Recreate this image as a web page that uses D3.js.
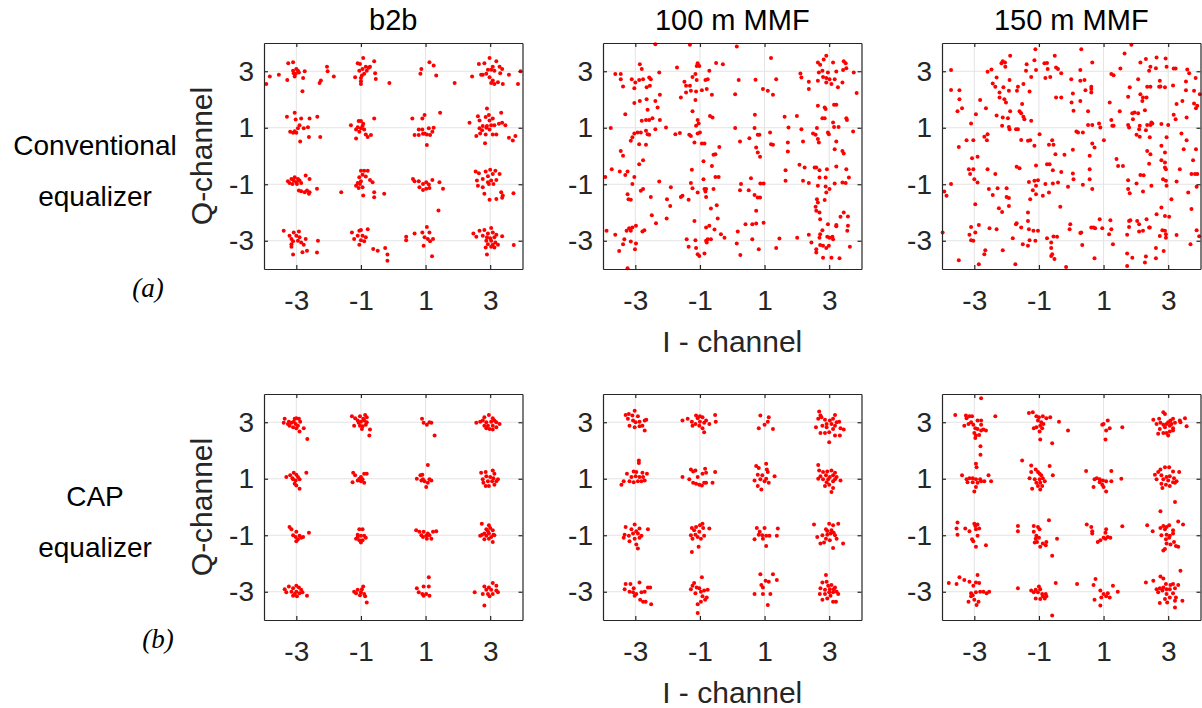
<!DOCTYPE html>
<html>
<head>
<meta charset="utf-8">
<script src="https://cdn.jsdelivr.net/npm/d3@7"></script>
<style>
  body { margin: 0; background: #fff; }
  svg { display: block; }
</style>
</head>
<body>
<div id="chart"></div>
<script>
// constellation points [I, Q]
let convB2b = [
  [-3.93,2.55],[-3.82,2.81],[-3.54,2.88],[-3.25,3.28],[-3.10,3.32],[-3.28,2.69],[-3.05,2.81],[-2.95,3.02],[-3.0,3.08],[-3.08,2.93],[-2.92,2.96],[-2.74,3.0],[-2.79,2.76],[-2.81,2.29],[-2.28,2.58],[-2.24,2.67],[-2.05,3.16],[-2.03,3.0],[-1.84,2.81],[-3.1,3.02],[-3.02,2.91],
  [-1.10,3.28],[-1.03,3.26],[-0.93,3.47],[-0.85,3.16],[-0.76,3.12],[-0.95,3.08],[-1.05,3.02],[-1.18,2.79],[-0.97,2.85],[-1.0,2.55],[-1.0,2.65],[-0.82,3.02],[-0.72,3.16],[-0.59,3.35],[-0.56,2.93],[-0.54,2.73],[-0.12,2.58],[-0.90,2.91],[-1.0,2.76],
  [0.87,3.08],[0.84,2.91],[1.12,3.32],[1.25,3.2],[1.33,2.85],[1.90,2.58],
  [2.44,2.81],[2.65,3.26],[2.82,3.28],[2.98,3.47],[3.19,3.35],[3.08,3.16],[3.29,3.16],[3.37,3.08],[2.93,3.05],[3.03,3.05],[3.13,3.02],[2.88,2.91],[2.77,2.88],[2.98,2.79],[3.08,2.67],[3.13,2.55],[3.03,2.58],[3.24,2.61],[3.39,2.55],[3.58,2.88],[3.86,2.55],[3.94,3.0],[2.72,2.88],[3.31,2.93],
  [-3.29,1.39],[-3.05,1.53],[-3.02,1.29],[-2.85,1.33],[-2.59,1.33],[-2.35,1.39],[-2.90,1.09],[-2.95,0.98],[-2.77,0.98],[-2.64,1.02],[-3.19,0.86],[-3.10,0.82],[-3.0,0.82],[-2.88,0.51],[-2.61,0.67],[-2.26,0.67],[-3.05,0.88],
  [-1.31,1.09],[-1.07,1.24],[-1.0,1.24],[-0.93,1.14],[-1.10,1.02],[-1.0,0.98],[-0.90,0.94],[-1.15,0.94],[-1.05,0.86],[-1.15,0.62],[-0.79,0.67],[-0.69,0.74],[-0.59,1.33],[-0.85,0.76],[-0.95,1.06],
  [0.59,1.33],[0.90,1.33],[0.97,1.45],[1.45,1.53],[0.79,0.94],[0.90,0.94],[1.10,0.98],[1.25,1.0],[0.66,0.74],[0.79,0.74],[0.92,0.79],[1.04,0.76],[1.14,0.74],[1.21,0.86],[1.04,0.39],[0.97,0.80],
  [2.36,1.18],[2.62,1.41],[2.67,1.26],[2.90,1.68],[2.86,1.38],[2.96,1.45],[2.98,1.26],[3.08,1.33],[3.34,1.53],[2.77,1.06],[2.90,1.06],[3.03,1.09],[3.13,1.09],[3.27,1.14],[3.37,1.18],[3.47,1.09],[2.67,0.98],[2.75,0.91],[2.88,1.0],[2.98,0.94],[2.69,0.8],[2.57,0.71],[2.86,0.76],[3.08,0.76],[3.19,0.76],[2.84,0.45],[3.58,0.65],[3.70,0.55],[3.78,0.71],
  [-3.26,-0.89],[-3.15,-0.81],[-3.05,-0.75],[-2.95,-0.81],[-3.08,-0.87],[-3.0,-0.93],[-2.90,-0.87],[-2.85,-0.96],[-3.21,-0.96],[-3.12,-0.99],[-2.98,-0.99],[-2.71,-0.69],[-2.59,-0.81],[-2.36,-1.16],[-2.92,-1.22],[-2.85,-1.25],[-2.67,-1.22],[-2.59,-1.28],[-2.61,-1.34],[-2.74,-1.28],[-1.61,-1.28],
  [-1.0,-0.52],[-0.90,-0.52],[-0.79,-0.52],[-0.95,-0.66],[-0.85,-0.73],[-1.05,-0.75],[-1.03,-0.99],[-1.15,-1.05],[-1.10,-0.96],[-0.95,-1.11],[-1.07,-1.13],[-1.0,-0.89],[-0.72,-0.85],[-0.64,-0.93],[-0.93,-1.40],[-0.59,-1.28],[-0.59,-1.46],[-0.28,-1.34],
  [0.61,-0.81],[0.66,-0.89],[0.79,-0.89],[0.92,-0.99],[1.02,-0.93],[1.10,-1.01],[1.21,-0.85],[1.43,-0.93],[1.12,-1.13],[1.02,-1.16],[0.81,-1.11],[0.92,-1.20],[1.54,-1.16],[1.40,-1.93],
  [2.55,-0.55],[2.65,-0.61],[2.86,-0.55],[3.0,-0.49],[3.16,-0.52],[3.29,-0.64],[3.08,-0.64],[2.93,-0.72],[2.59,-0.87],[2.77,-0.81],[2.93,-0.93],[3.03,-0.87],[3.19,-0.85],[2.62,-1.05],[2.77,-1.11],[2.96,-0.99],[3.10,-0.99],[2.82,-1.34],[2.98,-1.55],[3.19,-1.52],[3.34,-1.28],[3.39,-1.40],[3.37,-1.48],[3.72,-1.32],
  [-3.39,-2.65],[-3.21,-2.82],[-3.08,-2.71],[-2.92,-2.67],[-3.0,-2.82],[-2.90,-2.88],[-2.71,-2.94],[-3.15,-2.94],[-3.10,-3.02],[-2.95,-3.0],[-2.85,-3.06],[-3.15,-3.12],[-3.15,-3.21],[-2.77,-3.14],[-2.67,-3.35],[-2.81,-3.41],[-3.10,-3.49],[-2.36,-3.42],[-2.33,-3.0],
  [-1.28,-2.71],[-1.05,-2.65],[-1.0,-2.62],[-0.79,-2.59],[-1.10,-2.82],[-0.95,-2.82],[-0.85,-2.88],[-1.21,-2.94],[-1.0,-2.98],[-0.90,-3.02],[-1.05,-3.14],[-0.62,-3.29],[-0.48,-3.35],[-0.25,-3.26],[-0.18,-3.49],[-0.18,-3.71],
  [0.40,-2.86],[0.40,-2.98],[0.66,-2.74],[0.90,-2.71],[1.04,-2.51],[1.12,-2.71],[0.97,-2.88],[1.07,-2.94],[1.23,-2.94],[1.14,-3.02],[0.94,-3.18],[1.20,-3.55],
  [2.48,-2.74],[2.57,-2.86],[2.67,-2.65],[2.82,-2.62],[3.03,-2.55],[2.93,-2.74],[3.08,-2.71],[3.19,-2.79],[2.77,-2.82],[2.90,-2.88],[3.0,-2.91],[3.13,-2.88],[2.88,-3.0],[3.03,-3.0],[3.16,-3.06],[2.93,-3.12],[3.08,-3.14],[3.24,-3.14],[3.03,-3.21],[2.86,-3.24],[3.13,-3.24],[3.37,-2.84],[2.90,-3.49],[3.73,-3.15]
];

let conv100 = [
  [-2.38,3.96],[-1.31,3.94],[0.14,3.88],[-3.24,-3.97],[1.20,3.47],[2.91,3.55],[2.83,3.42],[2.65,3.31],[3.12,3.31],[3.45,3.35],[3.51,3.28],[2.72,3.23],[-2.86,3.25],[-2.80,3.08],[-1.07,3.28],[-1.02,3.19],[-1.10,3.19],[-0.50,3.29],[-0.29,3.25],[-1.71,3.13],
  [3.53,3.11],[3.43,3.04],[3.22,2.99],[2.96,2.96],[2.79,3.02],[2.68,2.96],[2.11,2.92],[2.14,2.78],[-0.71,3.02],[-3.62,2.90],[-3.45,2.90],[-3.45,2.72],[-3.38,2.46],[-3.11,2.72],[-3.00,2.60],[-3.03,2.40],[-2.88,2.69],[-2.76,2.72],[-2.57,2.78],[-2.52,2.72],
  [-2.65,2.43],[-2.55,2.49],[-2.26,2.96],[-1.48,2.63],[-1.43,2.49],[-1.31,2.49],[-1.23,2.80],[-1.14,2.90],[-1.10,2.69],[-1.28,2.31],[-1.12,2.28],[-0.94,2.33],[-0.83,2.69],[-0.76,2.72],[-0.79,2.37],[-0.63,2.17],[0.20,2.69],[0.72,2.70],[1.36,2.72],[0.95,2.37],
  [1.10,2.31],[1.26,2.17],[0.09,2.19],[2.37,2.63],[2.37,2.37],[2.65,2.66],[2.81,2.80],[2.91,2.76],[3.01,2.72],[3.07,2.55],[3.17,2.72],[2.91,2.60],[3.27,2.43],[3.41,2.60],[3.76,2.96],[3.85,2.23],[-2.86,1.95],[-2.65,2.01],[-2.38,1.95],[-2.24,2.17],
  [-3.03,1.88],[-1.59,2.07],[-1.14,1.98],[-1.43,2.25],[-2.31,1.72],[-2.62,1.64],[-3.31,1.48],[-2.80,1.25],[-2.67,1.27],[-2.57,1.27],[-2.47,1.34],[-2.24,1.27],[-1.23,1.58],[-1.07,1.27],[-1.04,1.15],[-1.12,1.07],[-0.69,1.42],[-0.61,1.36],[2.65,1.78],[2.86,1.72],
  [2.89,1.66],[3.15,1.81],[3.22,1.81],[1.62,1.39],[2.00,1.42],[2.79,1.34],[2.86,1.34],[3.12,1.19],[3.53,1.34],[3.55,1.27],[0.70,1.46],[-3.76,0.99],[-2.05,1.01],[-2.83,0.83],[-2.93,0.83],[-3.03,0.80],[-3.09,0.66],[-3.14,0.54],[-2.67,0.89],[-2.62,0.77],
  [-2.57,0.75],[-2.38,0.95],[-1.76,0.77],[-1.62,0.81],[-1.33,0.75],[-1.28,0.71],[-1.07,0.80],[-1.00,0.83],[0.09,0.99],[0.53,0.63],[0.69,0.99],[0.79,0.75],[0.84,0.75],[1.17,0.83],[1.74,1.01],[2.14,0.95],[2.50,0.80],[2.58,0.75],[2.62,0.99],[2.99,0.77],
  [2.96,0.83],[3.15,1.03],[3.29,1.03],[3.74,0.87],[1.72,0.48],[2.19,0.51],[2.65,0.60],[2.68,0.48],[3.22,0.51],[0.24,0.51],[-0.94,0.44],[-0.86,0.44],[-1.17,0.48],[-2.88,0.42],[-2.67,0.40],[-3.45,0.18],[-3.38,0.01],[-2.88,-0.29],[-2.76,-0.15],[-3.73,-0.47],
  [-3.48,-0.55],[-3.24,-0.55],[-3.31,-0.67],[-0.40,0.32],[-0.52,0.06],[-0.58,0.04],[-0.89,-0.19],[-0.63,-0.35],[-1.25,-0.49],[0.74,0.30],[0.79,0.12],[0.86,-0.03],[1.20,0.42],[1.26,0.40],[1.72,0.16],[2.08,-0.31],[2.24,-0.41],[2.55,-0.41],[2.60,-0.41],[2.70,-0.50],
  [2.93,-0.47],[3.22,-0.37],[3.53,-0.47],[3.41,0.18],[3.45,0.09],[3.17,0.24],[-3.93,-0.74],[-3.03,-0.74],[-3.09,-0.99],[-2.83,-1.23],[-2.76,-1.17],[-2.26,-0.90],[-1.90,-1.11],[-1.28,-0.96],[-1.23,-1.14],[-1.07,-1.29],[-0.86,-1.17],[-0.81,-1.17],[-0.89,-0.82],[-0.58,-1.17],
  [-0.52,-0.74],[-0.42,-0.74],[0.27,-0.99],[0.24,-1.21],[0.58,-0.79],[0.51,-1.21],[0.87,-0.97],[0.97,-0.97],[0.69,-1.38],[0.79,-1.47],[0.86,-1.47],[1.65,-0.50],[1.65,-0.88],[2.19,-0.88],[2.37,-0.96],[2.65,-1.05],[2.89,-1.08],[2.91,-1.29],[3.01,-1.17],[3.17,-0.97],
  [3.41,-0.94],[3.51,-0.96],[3.61,-0.76],[2.89,-0.76],[2.70,-0.76],[-3.24,-1.35],[-3.21,-1.53],[-3.14,-1.55],[-2.52,-1.45],[-2.02,-1.53],[-1.92,-1.77],[-1.54,-1.41],[-1.59,-1.45],[-1.35,-1.55],[-0.83,-1.26],[-0.81,-1.45],[-0.48,-1.74],[-0.66,-1.86],[0.74,-1.94],[0.41,-2.42],
  [0.62,-2.42],[0.74,-2.39],[0.97,-2.36],[2.62,-1.53],[2.58,-1.80],[2.65,-1.65],[2.60,-1.94],[2.86,-1.56],[2.70,-2.00],[2.72,-2.24],[2.96,-2.42],[3.22,-2.44],[3.45,-2.00],[3.35,-2.15],[3.58,-2.14],[-2.49,-2.10],[-2.03,-2.21],[-2.36,-2.38],[-1.17,-2.30],[-0.45,-2.21],
  [-0.71,-2.47],[-0.81,-2.53],[-3.89,-2.65],[-3.62,-2.79],[-3.27,-2.65],[-3.19,-2.56],[-3.09,-2.53],[-3.14,-2.65],[-2.98,-2.47],[-2.78,-2.67],[-2.72,-2.63],[-3.34,-2.95],[-3.14,-3.03],[-3.38,-3.12],[-3.50,-3.36],[-2.98,-3.10],[-3.01,-3.30],[-1.41,-2.95],[-1.14,-2.98],[-0.81,-3.00],
  [-0.76,-2.95],[-0.66,-2.95],[-0.55,-2.60],[-0.35,-2.77],[-0.24,-2.89],[-1.35,-3.21],[-1.12,-3.26],[-1.07,-3.48],[-1.02,-3.54],[-0.86,-3.45],[-0.79,-3.06],[0.17,-2.67],[0.14,-3.10],[0.25,-3.50],[0.62,-2.95],[0.82,-3.30],[1.36,-3.26],[1.46,-2.92],[2.01,-2.89],[2.37,-2.79],
  [2.45,-3.06],[2.60,-3.30],[2.70,-2.89],[2.72,-2.77],[2.79,-2.63],[2.94,-2.86],[3.01,-2.89],[3.10,-2.86],[3.12,-2.95],[2.81,-3.18],[2.91,-3.26],[2.99,-3.18],[2.72,-3.15],[2.60,-3.42],[2.81,-3.60],[3.07,-3.60],[3.32,-3.62],[3.22,-2.49],[3.58,-2.47],[3.56,-2.65],
  [3.64,-3.21]
];

let conv150 = [
  [1.86,3.94],[-1.11,3.78],[0.31,3.78],[1.65,3.63],[-1.89,3.55],[2.64,3.49],[2.92,3.45],[2.31,3.43],[2.14,3.31],[0.65,3.31],[-0.51,3.55],[-1.38,3.25],[-1.14,3.39],[-0.83,3.28],[-0.75,3.29],[-2.12,3.35],[-2.05,3.31],[-2.16,3.28],[-2.04,3.16],[-3.72,3.04],
  [-2.59,2.98],[-2.47,3.06],[-1.40,3.02],[-1.09,3.04],[-0.73,3.08],[-0.47,3.13],[-0.41,3.08],[-0.31,2.93],[0.28,3.04],[1.24,2.90],[1.31,2.86],[1.52,3.10],[2.41,3.02],[2.45,3.16],[2.62,3.11],[2.95,3.16],[3.17,3.10],[3.23,3.10],[3.59,3.06],[3.65,2.93],
  [3.85,2.76],[-0.80,2.76],[-0.65,2.80],[-1.24,2.80],[-2.31,2.78],[0.00,2.72],[0.28,2.66],[0.41,2.69],[0.62,2.45],[2.07,2.72],[2.74,2.66],[2.76,2.46],[3.15,2.50],[3.55,2.64],[-2.43,2.57],[-2.35,2.45],[-2.10,2.43],[-1.91,2.69],[-1.65,2.45],[-1.48,2.55],
  [-1.68,2.31],[-2.22,2.25],[-1.93,2.31],[-1.29,2.28],[-3.72,2.34],[-3.46,2.33],[-3.46,2.01],[-3.52,1.58],[-3.38,1.69],[-2.82,1.98],[-2.64,1.69],[-2.31,1.43],[-2.22,2.07],[-2.07,2.01],[-2.02,1.89],[-1.89,1.58],[-2.12,1.36],[-1.96,1.34],[-2.14,1.07],[-1.93,1.03],
  [-1.91,0.95],[-1.71,0.95],[-1.65,0.95],[-1.60,1.58],[-1.55,1.51],[-1.48,1.39],[-1.45,1.30],[-1.24,1.25],[-1.52,1.84],[-0.47,2.07],[-0.31,2.07],[0.05,2.21],[0.01,1.89],[0.07,1.60],[0.28,1.95],[0.52,1.58],[0.62,2.25],[0.62,2.37],[0.44,2.33],[1.19,1.89],
  [1.24,1.27],[1.27,1.07],[1.50,1.58],[1.76,2.10],[1.81,2.43],[1.89,1.51],[1.96,1.54],[1.91,1.30],[2.07,1.51],[2.14,2.19],[2.22,2.07],[2.33,2.07],[2.20,1.95],[2.28,1.62],[2.35,2.45],[2.45,2.45],[2.72,2.45],[2.90,2.43],[3.17,1.46],[3.23,1.30],
  [3.26,1.84],[3.44,1.95],[3.55,2.33],[3.57,1.36],[3.80,2.31],[3.80,1.86],[3.86,1.69],[3.90,1.78],[3.98,2.19],[3.00,1.10],[2.79,1.13],[2.45,1.10],[2.51,1.15],[2.35,1.10],[2.12,1.07],[1.76,1.10],[1.79,1.01],[2.10,0.95],[2.31,0.91],[2.02,0.75],
  [2.12,0.68],[2.43,0.66],[2.48,1.19],[2.95,0.66],[-3.10,1.15],[-2.95,1.48],[-3.24,0.56],[-3.03,0.56],[-3.48,0.32],[-2.69,0.68],[-2.59,0.77],[-2.61,0.56],[-1.55,0.57],[-1.34,0.54],[-1.27,0.56],[-0.98,0.77],[-1.14,0.36],[-0.69,0.40],[-0.59,0.56],[-0.55,0.40],
  [-0.49,0.06],[-0.21,0.04],[0.05,0.22],[0.16,0.87],[0.21,0.83],[0.36,0.83],[0.52,1.10],[0.65,1.10],[0.65,0.44],[0.57,0.01],[0.72,0.30],[0.86,1.15],[0.90,1.01],[1.01,0.56],[1.31,1.07],[2.35,0.18],[2.45,0.06],[2.79,0.36],[2.90,0.12],[3.41,0.80],
  [3.57,0.56],[3.48,0.24],[3.86,0.24],[3.77,-0.15],[-3.07,-0.08],[-2.90,-0.03],[-3.17,-0.47],[-3.03,-0.47],[-3.13,-0.64],[-2.59,-0.47],[-2.35,-0.64],[-1.69,-0.38],[-1.60,-0.43],[-1.09,-0.34],[-0.75,-0.29],[-0.67,-0.29],[-0.57,-0.50],[-0.31,-0.57],[0.05,-0.62],[0.57,-0.47],
  [1.40,-0.11],[1.45,-0.35],[1.60,-0.35],[2.41,-0.27],[2.79,-0.15],[2.90,-0.23],[2.90,-0.41],[3.36,-0.47],[3.83,-0.64],[3.90,-0.64],[-3.72,-0.99],[-3.93,-1.26],[-3.86,-1.41],[-3.00,-0.82],[-2.90,-0.94],[-2.55,-1.17],[-2.28,-1.14],[-2.43,-1.38],[-2.00,-1.14],[-2.00,-1.45],
  [-1.31,-0.92],[-1.14,-0.88],[-1.03,-0.86],[-1.09,-1.05],[-1.19,-1.21],[-1.27,-1.53],[-1.09,-1.35],[-0.80,-0.99],[-0.57,-0.97],[-0.41,-0.94],[-0.69,-1.29],[-0.88,-1.41],[-0.10,-1.09],[0.07,-0.82],[0.36,-1.02],[0.57,-0.82],[0.65,-1.17],[1.76,-0.86],[1.76,-1.17],[1.81,-1.32],
  [2.02,-0.97],[2.14,-0.67],[2.24,-0.68],[2.22,-1.26],[2.48,-1.05],[2.84,-0.82],[2.93,-0.88],[2.93,-0.47],[3.26,-0.90],[2.95,-1.05],[3.62,-1.29],[3.88,-1.09],[3.72,-0.64],[-2.97,-1.71],[-2.24,-1.85],[-2.14,-1.98],[-1.93,-1.77],[-1.93,-1.49],[-1.69,-2.38],[-1.34,-2.00],
  [-1.34,-2.30],[-0.34,-1.80],[-0.03,-2.42],[0.31,-2.71],[0.88,-2.24],[1.21,-2.27],[1.79,-2.30],[2.04,-2.30],[2.10,-2.42],[2.33,-2.24],[2.41,-2.53],[2.79,-1.82],[2.90,-2.12],[3.03,-2.15],[3.10,-1.53],[3.72,-1.88],[2.64,-2.06],[-3.98,-2.71],[-3.10,-2.51],[-3.15,-2.79],
  [-3.10,-2.98],[-3.03,-3.00],[-2.86,-2.44],[-2.97,-2.71],[-2.53,-2.56],[-2.31,-2.59],[-1.81,-2.91],[-1.71,-2.42],[-1.55,-2.53],[-1.50,-3.12],[-1.34,-3.18],[-1.29,-2.98],[-1.31,-2.59],[-1.17,-2.65],[-1.03,-2.65],[-1.11,-3.00],[-0.75,-2.91],[-0.62,-3.06],[-0.55,-2.85],[-0.44,-2.86],
  [-0.05,-2.59],[0.28,-2.73],[0.34,-3.15],[0.62,-2.53],[0.69,-2.53],[0.74,-2.56],[0.96,-2.56],[1.17,-2.77],[1.24,-2.59],[1.29,-3.12],[1.73,-2.79],[1.79,-2.51],[1.83,-2.27],[2.10,-2.67],[2.22,-2.65],[2.43,-2.53],[2.82,-2.63],[2.90,-2.65],[2.93,-2.77],[2.93,-2.89],
  [2.74,-2.83],[3.26,-2.80],[3.88,-2.63],[3.69,-3.12],[3.96,-2.84],[-2.66,-3.34],[-2.69,-3.48],[-3.48,-3.69],[-2.86,-3.83],[-2.12,-3.34],[-1.73,-3.83],[-0.62,-3.26],[-0.59,-3.48],[-0.62,-3.54],[-0.52,-3.65],[-0.16,-3.93],[0.72,-3.62],[1.73,-3.45],[1.73,-3.89],[1.89,-3.60],
  [2.31,-3.56],[2.62,-3.62],[2.86,-3.36],[2.62,-3.26],[2.28,-3.77]
];

let capB2b = [
  [-3.36,3.12],[-3.39,2.98],[-3.26,2.94],[-3.21,2.88],[-3.15,2.98],[-3.05,3.12],[-3.0,3.14],[-2.92,3.12],[-2.88,3.02],[-3.02,2.94],[-2.95,2.88],[-3.10,2.82],[-3.0,2.79],[-2.90,2.67],[-2.77,2.79],[-2.66,2.41],[-3.23,3.02],[-3.08,3.02],
  [-1.28,3.21],[-1.18,3.14],[-1.03,3.21],[-0.87,3.26],[-0.82,3.18],[-1.10,3.06],[-1.0,3.02],[-0.90,3.06],[-0.82,3.0],[-1.21,2.88],[-1.03,2.88],[-0.95,2.86],[-0.85,2.91],[-0.97,2.76],[-0.72,2.74],[-0.74,2.53],[-0.93,3.12],[-1.07,2.98],
  [0.89,3.12],[0.94,2.98],[1.04,2.91],[1.12,3.0],[1.18,2.98],[1.28,2.53],
  [2.57,2.98],[2.69,3.02],[2.82,3.18],[2.96,3.26],[3.08,3.14],[3.13,3.06],[2.88,3.0],[3.03,3.02],[3.19,3.0],[3.29,2.94],[2.93,2.88],[3.08,2.88],[3.19,2.82],[2.82,2.88],[2.98,2.76],[2.88,2.79],[3.08,2.74],[2.77,3.06],
  [-3.31,1.06],[-3.19,1.12],[-3.08,1.21],[-3.0,1.14],[-2.95,1.06],[-2.69,1.21],[-3.10,0.98],[-3.02,0.94],[-2.90,0.98],[-3.05,0.82],[-3.0,0.76],[-2.90,0.65],[-3.12,1.02],
  [-1.24,1.21],[-1.18,1.12],[-1.0,1.06],[-0.90,1.18],[-0.82,1.18],[-1.26,0.88],[-1.10,0.94],[-1.0,0.91],[-0.90,0.86],[-1.05,1.0],[-0.95,0.98],
  [1.07,1.49],[0.84,1.12],[0.90,1.14],[0.73,1.0],[0.87,0.94],[0.97,0.91],[1.12,0.98],[1.07,0.86],[1.02,0.71],[0.92,0.98],[1.18,0.94],
  [2.72,1.21],[2.86,1.24],[3.08,1.29],[3.13,1.18],[2.88,1.09],[3.0,1.06],[3.10,1.02],[3.24,0.98],[2.77,0.98],[2.93,0.91],[3.06,0.91],[3.19,0.91],[2.86,0.74],[2.96,0.74],[3.13,0.79],[2.79,0.86],
  [-3.21,-0.71],[-3.15,-0.79],[-3.0,-0.88],[-3.10,-1.0],[-3.02,-1.06],[-2.90,-1.02],[-2.79,-1.06],[-2.61,-0.91],[-2.95,-1.14],[-3.0,-1.21],[-2.85,-1.09],
  [-1.05,-0.79],[-0.95,-0.79],[-1.10,-0.98],[-1.0,-1.02],[-0.90,-1.02],[-1.15,-1.12],[-1.05,-1.18],[-0.95,-1.18],[-0.85,-1.09],[-1.0,-1.26],[-1.10,-1.06],
  [0.71,-0.82],[0.81,-0.88],[0.94,-0.88],[1.07,-0.94],[1.23,-0.88],[1.33,-0.86],[0.87,-1.0],[1.02,-1.02],[1.12,-1.0],[1.04,-1.12],[1.18,-1.12],[0.92,-1.06],
  [2.74,-0.59],[2.96,-0.65],[3.0,-0.74],[2.88,-0.79],[3.08,-0.82],[2.82,-0.94],[2.96,-0.94],[3.10,-0.98],[2.69,-1.02],[2.88,-1.02],[3.03,-1.06],[3.13,-1.0],[2.82,-1.14],[2.96,-1.12],[3.08,-1.24],[2.75,-0.98],[2.93,-0.86],
  [-3.36,-2.91],[-3.23,-2.81],[-3.10,-2.88],[-3.0,-2.79],[-2.92,-2.85],[-2.85,-2.93],[-3.31,-3.02],[-3.15,-3.0],[-3.0,-3.0],[-2.90,-3.05],[-2.81,-3.02],[-3.10,-3.14],[-2.98,-3.16],[-2.67,-3.14],[-3.05,-3.08],
  [-1.21,-3.0],[-1.10,-2.93],[-0.97,-2.91],[-0.93,-2.81],[-1.0,-3.02],[-0.90,-3.08],[-1.15,-3.05],[-1.03,-3.12],[-0.87,-3.16],[-0.82,-3.38],
  [1.10,-2.49],[0.94,-2.81],[1.10,-2.81],[0.73,-2.88],[0.79,-3.02],[0.90,-3.08],[1.02,-3.08],[1.12,-3.14],[0.94,-3.14],
  [2.52,-3.02],[2.82,-2.81],[2.96,-2.85],[3.08,-2.69],[3.19,-2.79],[2.88,-2.93],[3.03,-2.93],[3.19,-2.96],[2.77,-3.08],[2.93,-3.08],[3.08,-3.08],[3.24,-3.02],[2.98,-3.16],[2.82,-3.49]
];

let cap100 = [
  [-3.30,3.26],[-3.20,3.29],[-3.09,3.24],[-3.02,3.41],[-2.92,3.21],[-3.23,3.12],[-3.07,3.06],[-2.99,3.0],[-2.87,3.02],[-2.71,3.06],[-2.66,3.09],[-3.18,2.88],[-3.02,2.82],[-2.87,2.86],[-2.78,2.88],[-2.71,2.71],
  [-1.54,3.06],[-1.38,3.12],[-1.25,3.02],[-1.12,3.24],[-1.0,3.21],[-0.92,3.18],[-1.07,3.14],[-1.0,3.02],[-1.14,2.94],[-1.23,2.88],[-1.02,2.88],[-0.87,2.98],[-0.81,3.06],[-0.71,2.94],[-0.53,3.26],[-0.51,3.02],[-0.87,2.65],[-0.92,2.79],
  [0.87,3.24],[1.13,3.18],[1.0,2.91],[0.82,2.79],[1.10,3.02],[1.26,2.76],
  [2.69,3.38],[2.73,3.24],[2.66,3.12],[2.87,3.09],[3.02,3.06],[3.18,3.26],[3.12,3.12],[3.23,3.0],[3.31,3.02],[2.59,2.82],[2.79,2.88],[2.92,2.82],[3.07,2.94],[3.18,2.88],[3.12,2.76],[3.0,2.65],[2.87,2.62],[2.73,2.62],[3.35,2.79],[3.45,2.74],[3.33,2.53],[3.18,2.53],[3.0,2.29],[2.76,3.18],[2.92,2.94],
  [-2.89,1.65],[-2.89,1.56],[-3.26,1.18],[-3.05,1.26],[-2.97,1.24],[-2.78,1.21],[-2.64,1.18],[-3.12,1.06],[-2.99,1.09],[-2.87,1.06],[-2.76,1.06],[-3.36,0.91],[-3.43,0.79],[-3.18,0.91],[-3.05,0.88],[-2.92,0.91],[-2.81,0.91],[-2.71,0.94],
  [-1.54,1.06],[-1.33,0.98],[-1.28,1.33],[-1.21,1.26],[-1.14,1.29],[-0.92,1.18],[-0.84,1.35],[-0.81,1.21],[-0.53,1.24],[-1.07,1.06],[-1.21,0.86],[-1.12,0.82],[-1.02,0.79],[-0.94,0.76],[-0.87,0.86],[-0.81,0.86],[-0.61,0.86],
  [0.74,1.45],[0.82,1.38],[1.05,1.53],[1.07,1.33],[1.10,1.24],[0.79,1.14],[0.93,1.12],[1.31,1.09],[0.69,0.94],[0.87,0.98],[1.05,1.0],[1.13,0.86],[0.79,0.74],[0.90,0.62],[1.0,0.91],
  [2.66,1.49],[2.69,1.29],[2.81,1.24],[2.94,1.26],[3.07,1.29],[3.18,1.21],[2.73,1.09],[2.90,1.12],[3.02,1.06],[3.12,1.12],[3.23,1.06],[3.35,0.94],[2.66,1.0],[2.81,0.98],[2.97,0.98],[3.12,0.91],[3.18,0.98],[2.87,0.74],[3.0,0.79],[3.07,0.53],[3.12,0.67],[2.92,0.88],
  [-3.30,-0.71],[-3.02,-0.62],[-3.12,-0.79],[-2.97,-0.86],[-2.87,-0.76],[-2.61,-0.79],[-3.33,-0.98],[-3.20,-1.02],[-3.07,-0.94],[-2.92,-0.94],[-2.81,-1.02],[-3.36,-1.09],[-3.18,-1.21],[-3.02,-1.12],[-2.87,-1.09],[-2.97,-1.33],[-2.92,-1.47],
  [-1.25,-0.74],[-1.12,-0.71],[-1.0,-0.65],[-0.92,-0.59],[-0.90,-0.74],[-0.71,-0.76],[-1.28,-1.0],[-1.14,-0.98],[-1.02,-0.88],[-1.23,-1.12],[-1.07,-1.06],[-0.97,-1.12],[-0.87,-1.02],[-1.04,-1.41],[-1.25,-1.59],[-1.18,-0.82],
  [0.76,-0.74],[1.0,-0.74],[1.41,-0.76],[0.69,-1.14],[0.82,-0.98],[0.93,-1.0],[1.05,-1.02],[1.15,-1.02],[1.38,-1.02],[0.95,-1.12],[1.05,-1.38],[0.85,-0.88],
  [2.53,-0.62],[2.90,-0.79],[3.0,-0.59],[3.12,-0.65],[3.28,-0.59],[3.07,-0.82],[3.14,-0.91],[2.63,-1.06],[2.79,-1.0],[2.94,-0.98],[3.04,-0.94],[3.18,-1.0],[2.90,-1.12],[3.02,-1.18],[3.23,-1.12],[2.73,-1.29],[2.84,-1.26],[3.12,-1.45],[3.43,-1.29],[2.94,-0.85],
  [-3.30,-2.73],[-3.15,-2.73],[-3.05,-2.88],[-2.87,-2.67],[-2.61,-2.85],[-2.54,-2.85],[-3.33,-2.91],[-3.18,-3.0],[-3.07,-3.02],[-2.97,-3.08],[-2.81,-3.02],[-2.71,-3.0],[-3.02,-3.14],[-2.85,-3.28],[-2.68,-3.35],[-2.76,-3.35],[-2.51,-3.44],
  [-0.94,-2.49],[-1.18,-2.69],[-1.23,-2.79],[-1.10,-2.85],[-1.02,-2.88],[-1.28,-2.91],[-0.97,-3.0],[-0.87,-2.96],[-0.76,-2.93],[-1.14,-3.05],[-0.92,-3.16],[-0.84,-3.28],[-0.97,-3.35],[-1.07,-3.44],[-1.07,-3.75],[-0.79,-3.2],
  [0.87,-2.38],[1.26,-2.38],[1.03,-2.61],[1.13,-2.65],[0.90,-2.76],[0.95,-2.85],[1.38,-2.58],[0.69,-3.08],[0.95,-3.08],[1.18,-3.08],[1.10,-3.47],
  [2.90,-2.41],[2.79,-2.67],[2.92,-2.65],[2.97,-2.79],[3.07,-2.76],[3.18,-2.85],[2.73,-2.88],[2.87,-2.93],[3.02,-2.91],[3.14,-2.91],[3.28,-3.08],[2.71,-3.08],[2.87,-3.08],[3.0,-3.02],[3.12,-3.02],[3.23,-3.0],[2.79,-3.28],[2.94,-3.24],[3.12,-3.35],[3.21,-3.35],[3.04,-3.14]
];

let cap150 = [
  [-3.59,3.26],[-3.26,3.24],[-3.15,3.21],[-3.07,3.21],[-3.24,3.14],[-3.31,2.88],[-3.18,2.94],[-3.10,3.0],[-3.03,2.91],[-2.90,3.06],[-2.79,3.06],[-2.79,2.91],[-2.97,2.79],[-2.90,2.76],[-2.79,2.71],[-2.72,2.74],[-2.64,2.71],[-3.0,2.62],[-2.95,2.53],[-2.85,2.55],[-2.97,2.44],[-2.81,2.15],[-2.81,1.85],[-2.35,3.21],[-2.79,3.85],
  [-1.31,3.33],[-1.19,3.35],[-1.08,3.21],[-1.0,3.18],[-0.88,3.21],[-0.77,3.14],[-0.65,3.18],[-1.03,3.06],[-0.93,3.0],[-0.86,2.94],[-0.96,2.88],[-1.08,2.82],[-1.16,2.79],[-0.90,2.79],[-0.98,2.67],[-0.96,2.39],[-0.59,2.26],[-0.38,3.02],[-0.10,2.71],
  [0.96,2.91],[1.0,2.94],[1.13,3.06],[1.19,2.79],[1.08,2.71],[1.06,2.39],[1.58,2.82],
  [2.54,3.09],[2.72,3.12],[2.85,3.35],[2.90,3.29],[3.07,3.06],[3.15,3.12],[3.36,3.06],[3.52,3.14],[3.57,2.86],[2.64,2.94],[2.76,2.98],[2.85,2.91],[2.95,2.94],[3.0,3.0],[3.10,2.94],[3.21,2.98],[3.38,3.0],[2.74,2.76],[2.90,2.82],[3.05,2.88],[3.15,2.79],[2.85,2.62],[2.69,2.59],[2.95,2.62],[3.05,2.67],[3.15,2.71],[3.0,2.53],
  [-2.95,1.53],[-2.93,1.41],[-3.38,1.12],[-3.24,0.98],[-3.15,1.02],[-3.05,1.02],[-2.95,0.98],[-2.79,0.91],[-2.56,1.12],[-2.48,0.91],[-3.21,0.88],[-3.05,0.88],[-2.90,0.86],[-2.82,0.98],[-2.95,0.71],[-3.0,0.55],[-2.69,0.91],
  [-1.52,1.65],[-1.24,1.47],[-1.10,1.33],[-1.03,1.24],[-1.24,1.24],[-0.98,1.18],[-0.93,1.12],[-0.67,1.45],[-0.57,1.12],[-1.29,1.02],[-1.13,0.98],[-0.98,0.98],[-0.88,1.02],[-1.08,0.86],[-0.96,0.86],[-0.82,0.91],[-1.03,0.74],[-0.90,0.74],[-1.21,0.65],[-0.96,0.62],
  [0.46,1.27],[1.24,1.27],[0.72,0.98],[0.79,1.02],[0.88,0.98],[0.98,0.94],[1.55,1.0],[0.88,0.88],[1.08,0.91],[1.24,0.91],[0.69,0.71],[1.0,0.71],[1.08,0.55],[0.96,0.79],
  [2.59,1.14],[2.69,1.24],[2.76,1.33],[2.90,1.41],[3.03,1.41],[3.15,1.26],[3.34,1.24],[2.64,0.98],[2.79,1.12],[2.95,1.06],[3.05,1.09],[3.18,1.02],[2.85,0.98],[3.0,0.94],[3.15,0.88],[3.26,0.91],[2.79,0.82],[2.93,0.79],[3.05,0.74],[3.21,0.86],[2.82,0.67],[3.21,0.18],[2.76,-0.15],
  [-3.52,-0.55],[-3.55,-0.76],[-3.52,-0.98],[-3.28,-0.76],[-3.15,-0.86],[-3.0,-0.59],[-2.97,-0.67],[-2.90,-0.62],[-2.95,-0.79],[-2.85,-0.76],[-3.07,-1.14],[-3.03,-1.21],[-2.90,-1.02],[-2.95,-1.41],[-2.64,-1.35],
  [-1.65,-0.67],[-1.65,-0.86],[-1.16,-0.67],[-1.03,-0.71],[-0.98,-0.79],[-1.16,-0.88],[-1.08,-1.02],[-1.10,-1.12],[-1.0,-1.09],[-1.06,-1.24],[-1.13,-1.26],[-0.88,-1.29],[-0.77,-1.24],[-0.79,-1.35],[-0.69,-0.47],[-0.44,-1.12],[-0.59,-1.73],[-0.96,-1.41],
  [0.48,-0.62],[0.62,-0.71],[0.65,-0.86],[0.65,-0.94],[1.08,-0.79],[1.06,-0.91],[1.0,-1.09],[1.13,-1.06],[1.21,-1.09],[1.06,-1.12],[0.82,-1.24],[0.90,-1.18],[1.58,-0.68],
  [2.35,-0.65],[2.52,-0.86],[2.76,-0.74],[2.85,-0.67],[2.95,-0.71],[3.03,-0.65],[2.90,-0.79],[3.15,-0.82],[3.31,-0.51],[3.46,-0.62],[2.79,-1.0],[2.95,-0.98],[3.05,-1.02],[3.15,-0.94],[2.93,-1.14],[3.03,-1.09],[3.18,-1.24],[3.07,-1.33],[3.24,-1.38],[2.95,-1.29],[2.90,-1.49],[2.85,-1.54],[3.31,-1.41],
  [-3.79,-2.69],[-3.55,-2.73],[-3.46,-2.49],[-3.31,-2.58],[-3.15,-2.65],[-2.90,-2.41],[-2.95,-2.67],[-2.85,-2.69],[-3.03,-2.79],[-3.10,-3.05],[-3.05,-3.12],[-2.95,-3.02],[-2.82,-3.0],[-2.72,-3.0],[-2.54,-3.0],[-2.62,-3.05],[-3.10,-3.16],[-3.18,-3.35],[-3.0,-3.28],[-2.87,-3.35],[-2.93,-3.47],
  [-1.65,-2.88],[-1.24,-2.96],[-1.10,-2.93],[-1.0,-2.81],[-0.96,-2.91],[-1.16,-3.02],[-1.03,-3.02],[-0.90,-3.08],[-0.79,-3.08],[-0.88,-3.16],[-1.10,-3.24],[-0.96,-3.26],[-0.82,-3.24],[-0.77,-3.16],[-0.48,-2.69],[-0.59,-3.84],
  [0.18,-2.73],[0.69,-2.76],[0.75,-2.55],[0.90,-2.96],[1.0,-3.08],[1.08,-3.16],[1.13,-3.05],[1.19,-3.20],[0.93,-3.20],[1.29,-2.79],[1.44,-3.0],[0.72,-3.28],[0.90,-3.49],
  [2.31,-2.67],[2.54,-2.61],[2.76,-2.46],[2.85,-2.53],[2.93,-2.73],[3.07,-2.76],[3.15,-2.73],[3.31,-2.76],[2.64,-2.91],[2.74,-2.88],[2.85,-2.85],[2.95,-2.91],[3.05,-2.91],[3.21,-2.88],[2.69,-3.02],[2.82,-2.96],[2.95,-3.08],[3.15,-3.05],[3.38,-2.26],[3.24,-3.20],[3.05,-3.20],[2.90,-3.26],[2.74,-3.40],[2.97,-3.38],[3.21,-3.32],[3.44,-3.32],[3.21,-3.56]
];

let titles = ["b2b", "100 m MMF", "150 m MMF"];
let tickValues = [-3, -1, 1, 3];
let rowLabels = [["Conventional", "equalizer"], ["CAP", "equalizer"]];
let rowTags = ["(a)", "(b)"];
let panels = [[convB2b, conv100, conv150], [capB2b, cap100, cap150]];

let width = 1202, height = 708;
let panelX = [264, 603, 942];
let panelY = [43, 394];
let pw = 258.5, ph = 226;
let font = "'Liberation Sans', Arial, Helvetica, sans-serif";

let svg = d3.select("#chart").append("svg")
    .attr("width", width)
    .attr("height", height)
    .style("background", "#fff");

let x = d3.scaleLinear().domain([-4, 4]).range([0, pw]);
let y = d3.scaleLinear().domain([-4, 4]).range([ph, 0]);

// plain hyphen minus, like the original figure
let fmt = d => d.toString();

function drawPanel(g, data, row, col) {
    // grid
    g.selectAll(".gx").data(tickValues).enter().append("line")
        .attr("x1", d => x(d)).attr("x2", d => x(d))
        .attr("y1", 0).attr("y2", ph)
        .attr("stroke", "#e3e3e3").attr("stroke-width", 1);
    g.selectAll(".gy").data(tickValues).enter().append("line")
        .attr("y1", d => y(d)).attr("y2", d => y(d))
        .attr("x1", 0).attr("x2", pw)
        .attr("stroke", "#e3e3e3").attr("stroke-width", 1);

    g.selectAll("circle").data(data).enter().append("circle")
        .attr("cx", d => x(d[0]))
        .attr("cy", d => y(d[1]))
        .attr("r", 2)
        .attr("fill", "#ff0000");

    let bottom = g.append("g").attr("transform", `translate(0,${ph})`)
        .call(d3.axisBottom(x).tickValues(tickValues).tickFormat(fmt).tickSizeInner(-4).tickSizeOuter(0).tickPadding(21));
    let left = g.append("g")
        .call(d3.axisLeft(y).tickValues(tickValues).tickFormat(fmt).tickSizeInner(-4).tickSizeOuter(0).tickPadding(10));
    let top = g.append("g")
        .call(d3.axisTop(x).tickValues(tickValues).tickSizeInner(-4).tickSizeOuter(0).tickFormat(""));
    let right = g.append("g").attr("transform", `translate(${pw},0)`)
        .call(d3.axisRight(y).tickValues(tickValues).tickSizeInner(-4).tickSizeOuter(0).tickFormat(""));

    [bottom, left, top, right].forEach(a => {
        a.selectAll("path, line").attr("stroke", "#262626").attr("stroke-width", 1.2);
        a.selectAll("text").attr("fill", "#262626")
            .style("font-family", font).style("font-size", "28px");
    });

    if (row === 0) {
        g.append("text")
            .attr("x", pw / 2).attr("y", -13)
            .attr("text-anchor", "middle")
            .style("font-family", font).style("font-size", "29px")
            .attr("fill", "#000")
            .text(titles[col]);
    }
}

panels.forEach((rowData, r) => {
    rowData.forEach((data, c) => {
        let g = svg.append("g").attr("transform", `translate(${panelX[c]},${panelY[r]})`);
        drawPanel(g, data, r, c);
    });

    // x label under middle panel
    svg.append("text")
        .attr("x", panelX[1] + pw / 2)
        .attr("y", panelY[r] + ph + 83)
        .attr("text-anchor", "middle")
        .style("font-family", font).style("font-size", "30px")
        .attr("fill", "#262626")
        .text("I - channel");

    // y label
    svg.append("text")
        .attr("transform", `translate(212,${panelY[r] + ph / 2}) rotate(-90)`)
        .attr("text-anchor", "middle")
        .style("font-family", font).style("font-size", "30px")
        .attr("fill", "#262626")
        .text("Q-channel");

    // row description on the far left
    rowLabels[r].forEach((t, i) => {
        svg.append("text")
            .attr("x", 95)
            .attr("y", panelY[r] + 112 + i * 51)
            .attr("text-anchor", "middle")
            .style("font-family", font).style("font-size", "28px")
            .attr("fill", "#000")
            .text(t);
    });

    svg.append("text")
        .attr("x", r === 0 ? 148 : 158)
        .attr("y", panelY[r] + 254)
        .attr("text-anchor", "middle")
        .style("font-family", "'Liberation Serif', 'Times New Roman', serif")
        .style("font-style", "italic")
        .style("font-size", "27px")
        .attr("fill", "#000")
        .text(rowTags[r]);
});
</script>
</body>
</html>
